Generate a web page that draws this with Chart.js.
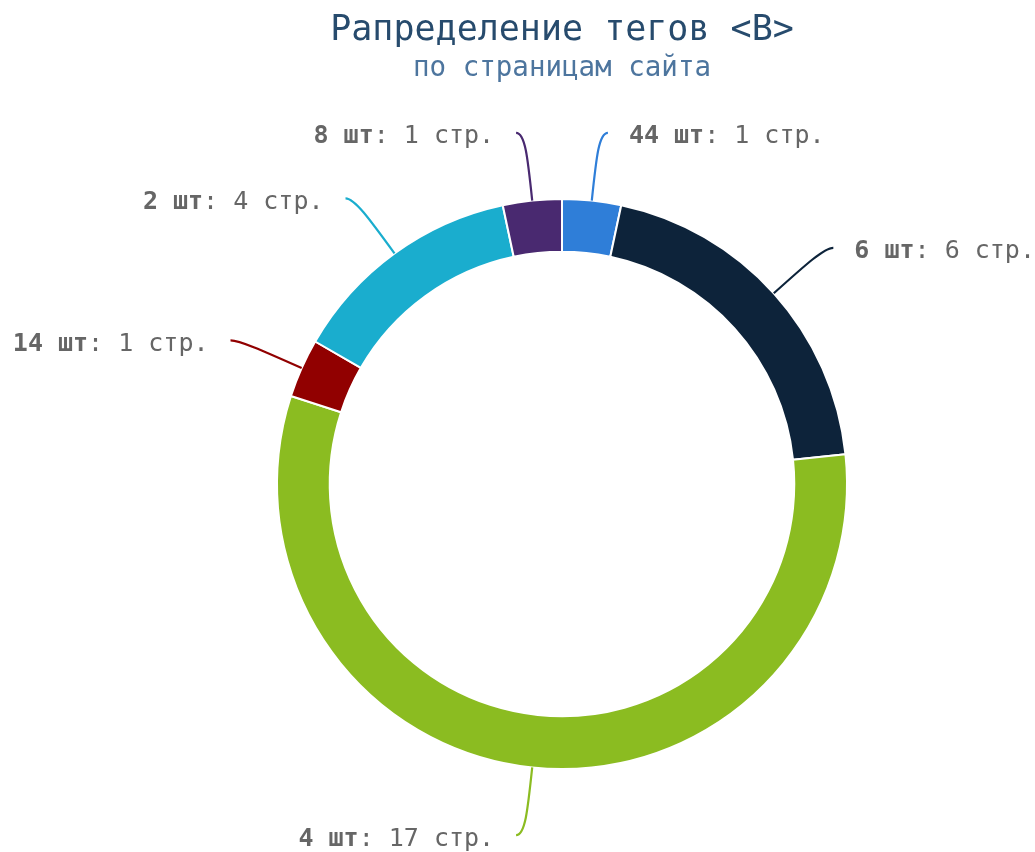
<!DOCTYPE html>
<html>
<head>
<meta charset="utf-8">
<script src="https://cdn.jsdelivr.net/npm/chart.js@4"></script>
<style>
html,body{margin:0;padding:0;background:#fff;}
#wrap{width:1035px;height:852px;position:relative;}
</style>
</head>
<body>
<div id="wrap"><canvas id="c" width="1035" height="852"></canvas></div>
<script>
const categories = ['44 шт', '6 шт', '4 шт', '14 шт', '2 шт', '8 шт'];
const pages = [1, 6, 17, 1, 4, 1];
const pageSuffix = ' стр.';
const colors = ['#2f7ed8', '#0d233a', '#8bbc21', '#910000', '#1aadce', '#492970'];

const FONT = '"DejaVu Sans Mono", monospace';
const LABEL_SIZE = 25;

const labelPlugin = {
  id: 'pieLabels',
  afterDatasetsDraw(chart) {
    const ctx = chart.ctx;
    const meta = chart.getDatasetMeta(0);
    ctx.save();
    meta.data.forEach((el, i) => {
      const p = el.getProps(['x', 'y', 'startAngle', 'endAngle', 'outerRadius'], true);
      const mid = (p.startAngle + p.endAngle) / 2;
      const ux = Math.cos(mid), uy = Math.sin(mid);
      const r = p.outerRadius;
      const dir = ux >= 0 ? 1 : -1;
      const sx = p.x + r * ux, sy = p.y + r * uy;
      const ex = p.x + (r + 68) * ux, ey = p.y + (r + 68) * uy;
      const c1x = p.x + (r + 44) * ux, c1y = p.y + (r + 44) * uy;
      const endX = ex + dir * 9;
      ctx.beginPath();
      ctx.moveTo(sx, sy);
      ctx.bezierCurveTo(c1x, c1y, ex, ey, endX, ey);
      ctx.strokeStyle = colors[i];
      ctx.lineWidth = 2.2;
      ctx.stroke();

      const boldTxt = categories[i];
      const normTxt = ': ' + pages[i] + pageSuffix;
      ctx.font = 'bold ' + LABEL_SIZE + 'px ' + FONT;
      const wb = ctx.measureText(boldTxt).width;
      ctx.font = LABEL_SIZE + 'px ' + FONT;
      const wn = ctx.measureText(normTxt).width;
      let tx = dir > 0 ? endX + 21 : endX - 22 - wb - wn;
      ctx.textBaseline = 'middle';
      ctx.textAlign = 'left';
      ctx.fillStyle = '#666666';
      ctx.font = 'bold ' + LABEL_SIZE + 'px ' + FONT;
      ctx.fillText(boldTxt, tx, ey + 4);
      ctx.font = LABEL_SIZE + 'px ' + FONT;
      ctx.fillText(normTxt, tx + wb, ey + 4);
    });
    ctx.restore();
  }
};

new Chart(document.getElementById('c'), {
  type: 'doughnut',
  data: {
    labels: categories,
    datasets: [{
      data: pages,
      backgroundColor: colors,
      borderColor: '#ffffff',
      borderWidth: 2,
      hoverOffset: 0
    }]
  },
  options: {
    responsive: false,
    animation: false,
    cutout: '81.5%',
    events: [],
    layout: { padding: { left: 189, right: 100, top: 0, bottom: 82 } },
    plugins: {
      legend: { display: false },
      tooltip: { enabled: false },
      title: {
        display: true,
        text: 'Рапределение тегов <B>',
        color: '#274b6d',
        font: { family: FONT, size: 35, weight: 'normal', lineHeight: 1.2 },
        padding: { top: 10, bottom: 0 }
      },
      subtitle: {
        display: true,
        text: 'по страницам сайта',
        color: '#4d759e',
        font: { family: FONT, size: 27.5, weight: 'normal', lineHeight: 1.2 },
        padding: { top: 0, bottom: 113 }
      }
    }
  },
  plugins: [labelPlugin]
});
</script>
</body>
</html>
